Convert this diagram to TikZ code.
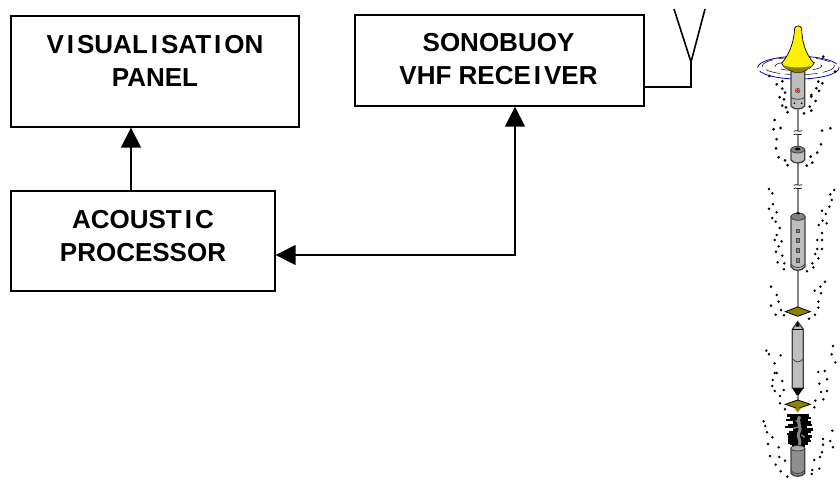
\documentclass[tikz,border=0pt]{standalone}
\usepackage{fontspec}
\setmainfont{Liberation Sans}
\usetikzlibrary{arrows.meta,calc}
\definecolor{olivebuoy}{RGB}{140,130,0}
\definecolor{bodygray}{RGB}{190,190,190}
\definecolor{midgray}{RGB}{130,130,130}
\definecolor{yellowbuoy}{RGB}{255,240,0}
\newcommand{\wideI}{\kern3pt I\kern3pt}
\tikzset{
  panelbox/.style={draw=black,line width=1.4pt,fill=white,inner sep=0pt},
  paneltext/.style={font=\bfseries\fontsize{26}{33}\selectfont,align=center,inner sep=0pt,text=black},
  link/.style={draw=black,line width=1.6pt},
  bigtip/.style={-{Triangle[width=20pt,length=20pt]}},
  bigtips/.style={{Triangle[width=20pt,length=20pt]}-{Triangle[width=20pt,length=20pt]}},
  speck/.style={fill=black},
  casing/.style={draw=black!75,line width=1.3pt,fill=bodygray},
  rod/.style={draw=midgray,line width=1.8pt},
  plate/.style={draw=black,line width=0.8pt,fill=olivebuoy},
}
\begin{document}
\begin{tikzpicture}[x=1pt,y=-1pt]
\useasboundingbox (0,0) rectangle (840,479);
% boxes
\node[panelbox,minimum width=288pt,minimum height=111pt] (vis) at (155,71.5) {};
\node[panelbox,minimum width=289pt,minimum height=91pt] (sono) at (499.5,60.5) {};
\node[panelbox,minimum width=264pt,minimum height=100pt] (acou) at (143,241) {};
\node[paneltext] (vistext) at (155,61) {V\wideI SUAL\wideI SAT\wideI ON\\PANEL};
\node[paneltext] (sonotext) at (498.5,59.5) {SONOBUOY\\VHF RECE\wideI VER};
\node[paneltext] (acoutext) at (143,236.5) {ACOUST\wideI C\\PROCESSOR};
% connectors
\draw[link,bigtip] ([xshift=-12pt]acou.north) -- ([xshift=-12pt]acou.north |- vis.south);
\draw[link,bigtips] ([yshift=-14pt]acou.east) -| ([xshift=15.5pt]sono.south);
% antenna
\coordinate (fork) at (691,62);
\coordinate (armL) at (674,9);
\coordinate (armR) at (705,9);
\draw[link,line join=miter] ([yshift=-26.5pt]sono.east) -| (fork);
\draw[link] (armL) -- (fork) -- (armR);
% sonobuoy drawing, in 3x coordinates
\begin{scope}[shift={(740pt,0pt)},x=0.3333pt,y=-0.3333pt]
  % rods
  \draw[rod] (173,330) -- (173,440);
  \draw[rod] (173,490) -- (173,640);
  \draw[rod] (173,810) -- (173,940);
  % breaks
  \foreach \yy in {398,560}{
    \fill[white] (160,\yy-5) rectangle (186,\yy+5);
    \draw[black,line width=0.7pt] (161,\yy-4) .. controls (168,\yy-9) and (178,\yy-1) .. (186,\yy-6);
    \draw[black,line width=0.7pt] (161,\yy+6) .. controls (168,\yy+1) and (178,\yy+9) .. (186,\yy+4);
  }
  % blue ring
  \draw[blue!85!black,line width=0.8pt,dash pattern=on 40pt off 4pt] (175,203) ellipse (122 and 34);
  \draw[black,line width=0.5pt,dash pattern=on 14pt off 5pt] (175,198) ellipse (108 and 26);
  \draw[black,line width=0.5pt,dash pattern=on 10pt off 6pt] (175,198) ellipse (70 and 14);
  % top body
  \draw[casing] (153,215) -- (153,318) .. controls (160,330) and (186,330) .. (194,318) -- (194,215) -- cycle;
  \draw[black!75,line width=0.8pt] (153,292) .. controls (160,300) and (186,300) .. (194,292);
  \fill[red] (173,272) circle (4.5);
  \draw[black!70,line width=0.6pt] (173,272) circle (7);
  \fill[black] (163,310) circle (3) (185,310) circle (3);
  % yellow bell
  \draw[draw=black,line width=0.7pt,fill=yellowbuoy]
    (164,84) .. controls (168,76) and (180,76) .. (185,84)
    .. controls (186,125) and (195,160) .. (222,190)
    .. controls (215,205) and (200,208) .. (192,212)
    .. controls (185,220) and (165,220) .. (155,212)
    .. controls (145,208) and (132,205) .. (125,190)
    .. controls (150,160) and (162,125) .. (164,84) -- cycle;
  \fill[olivebuoy] (128,195) .. controls (150,205) and (198,205) .. (219,195)
    .. controls (212,205) and (200,208) .. (192,212)
    .. controls (185,220) and (165,220) .. (155,212)
    .. controls (145,208) and (135,205) .. (128,195) -- cycle;
  % small cylinder
  \draw[casing] (153,450) -- (153,480) .. controls (160,492) and (186,492) .. (194,480) -- (194,450) -- cycle;
  \draw[black!75,line width=0.8pt,fill=midgray] (173,449) ellipse (21 and 10);
  \fill[black] (173,447) ellipse (8 and 4);
  % long cylinder
  \draw[casing] (153,650) -- (153,800) .. controls (160,815) and (186,815) .. (195,800) -- (195,650) -- cycle;
  \draw[black!75,line width=0.8pt,fill=midgray] (174,650) ellipse (21 and 11);
  \fill[black] (174,640) ellipse (6 and 3);
  \draw[black!75,line width=0.8pt] (153,793) .. controls (160,806) and (186,806) .. (195,793);
  \foreach \yy in {693,721,751,781}{
    \draw[black!70,fill=midgray,line width=0.6pt] (169,\yy-5) rectangle (178,\yy+5);
  }
  % first plate
  \draw[plate] (136,935) -- (173,921) -- (211,935) -- (173,949) -- cycle;
  % tube
  \draw[casing] (173,965) -- (190,988) -- (190,1165) -- (157,1165) -- (157,988) -- cycle;
  \draw[black,line width=1pt] (157,990) -- (190,990);
  \fill[black] (173,964) -- (179,980) -- (167,980) -- cycle;
  \draw[black!80,line width=0.7pt] (159,1078) .. controls (165,1088) and (182,1088) .. (188,1078);
  \fill[black] (157,1165) -- (190,1165) -- (173,1190) -- cycle;
  \draw[rod] (173,1185) -- (173,1205);
  % second plate
  \draw[plate] (136,1213) -- (173,1200) -- (211,1213) -- (173,1226) -- cycle;
  \fill[olivebuoy] (163,1224) -- (183,1224) -- (173,1238) -- cycle;
  % brush
  \foreach \yy/\xa/\xb in {1247/142/208,1254/150/214,1261/138/204,1268/158/212,1275/144/216,1282/136/200,1289/160/218,1296/146/212,1303/142/204,1310/146/216,1317/144/210,1324/146/214,1331/150/204,1338/155/195}{
    \draw[black,line width=2.4pt] (\xa,\yy) -- (\xb,\yy);
  }
  \fill[black] (145,1305) rectangle (172,1332);
  \draw[midgray,line width=3pt] (180,1250) .. controls (165,1265) and (190,1285) .. (176,1300) .. controls (170,1312) and (185,1320) .. (178,1335);
  \draw[midgray,line width=1.5pt] (167,1262) -- (182,1268) (160,1285) -- (176,1281) (184,1305) -- (194,1312);
  % bottom weight
  \draw[draw=black!75,line width=1.3pt,fill=midgray!90] (153,1345) -- (153,1420) .. controls (160,1432) and (186,1432) .. (194,1420) -- (194,1345) -- cycle;
  \draw[black!75,line width=0.8pt,fill=bodygray!70!midgray] (173,1345) ellipse (21 and 8);
  \draw[black!75,line width=0.8pt] (153,1412) .. controls (160,1424) and (186,1424) .. (194,1412);
  % specks
  \foreach \xx/\yy in {88/228,110/253,127/244,127/266,135/278,119/292,132/298,127/317,138/322,143/337,192/340,209/320,214/332,227/303,214/285,214/290,229/265,237/273,235/245,247/250,104/360,101/388,122/384,110/418,108/445,116/472,135/481,143/496,200/497,217/488,212/470,232/458,243/433,246/392,271/385,285/215,250/170}{
    \fill[speck] (\xx,\yy) circle (4.5);
  }
  \begin{scope}[yshift=-160pt]
  \foreach \xx/\yy in {87/87,97/100,99/133,87/146,110/157,97/174,107/185,119/204,110/225,104/240,125/244,116/259,108/275,127/287,113/307,133/310,132/328,201/334,217/310,220/322,226/282,235/295,232/267,246/267,232/240,246/240,246/219,236/195,248/182,260/190,246/152,257/162,268/140,275/120,271/103,283/90,93/380,110/405,116/425,93/437,107/464,123/450,132/466,207/476,225/464,235/443,235/425,243/400,224/392,241/380,255/365}{
    \fill[speck] (\xx,\yy) circle (4.2);
  }
  \end{scope}
  \begin{scope}[yshift=-310pt]
  \foreach \xx/\yy in {79/122,87/133,122/136,104/160,104/189,110/189,98/210,127/213,97/228,131/240,104/243,120/258,120/280,135/298,71/334,76/348,81/367,97/382,84/402,116/412,90/438,118/441,135/452,107/464,122/484,142/500,215/492,217/480,238/476,223/450,240/441,246/427,249/404,249/387,271/393,279/412,277/362,223/292,226/272,250/268,243/246,261/243,238/221,261/208,235/186,254/183,275/133,279/108,286/157}{
    \fill[speck] (\xx,\yy) circle (4.2);
  }
  \end{scope}
\end{scope}
\end{tikzpicture}
\end{document}
